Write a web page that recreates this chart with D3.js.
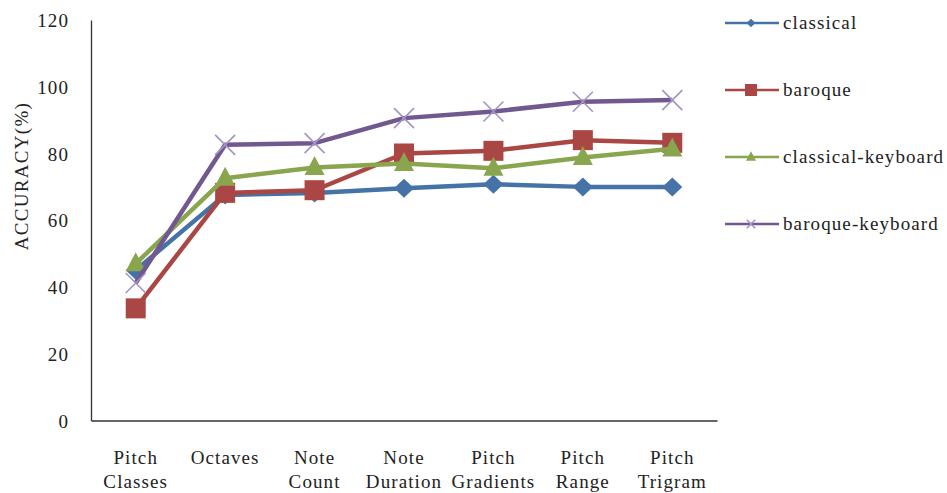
<!DOCTYPE html>
<html>
<head>
<meta charset="utf-8">
<script src="https://cdn.jsdelivr.net/npm/d3@7"></script>
<style>
  html, body { margin: 0; padding: 0; background: #fff; }
  svg { display: block; }
</style>
</head>
<body>
<svg id="chart" width="947" height="493"></svg>
<script>
// Feature categories (two-line labels on the x axis)
const categories = ["Pitch Classes", "Octaves", "Note Count", "Note Duration", "Pitch Gradients", "Pitch Range", "Pitch Trigram"];
const categoryLines = [["Pitch", "Classes"], ["Octaves"], ["Note", "Count"], ["Note", "Duration"], ["Pitch", "Gradients"], ["Pitch", "Range"], ["Pitch", "Trigram"]];

// Accuracy (%) per feature set
const classical = [45, 67.6, 68.2, 69.6, 70.8, 70, 70];
const baroque = [33.6, 68.2, 69, 80, 80.8, 84, 83.2];
const classicalKeyboard = [47, 72.6, 75.8, 77, 75.6, 78.8, 81.4];
const baroqueKeyboard = [41.2, 82.6, 83.1, 90.6, 92.6, 95.5, 96];

const seriesNames = ["classical", "baroque", "classical-keyboard", "baroque-keyboard"];
const yTicks = [0, 20, 40, 60, 80, 100, 120];

const series = [
  { name: seriesNames[0], values: classical, color: "#4572A7", marker: "diamond" },
  { name: seriesNames[1], values: baroque, color: "#AA4643", marker: "square" },
  { name: seriesNames[2], values: classicalKeyboard, color: "#89A54E", marker: "triangle" },
  { name: seriesNames[3], values: baroqueKeyboard, color: "#71588F", marker: "cross" }
];

const FONT = '"Liberation Serif", "Times New Roman", serif';
const textStyle = sel => sel
  .style("font-family", FONT)
  .style("font-size", "19px")
  .style("letter-spacing", "1.1px")
  .style("fill", "#222");

const svg = d3.select("#chart");
const plot = { left: 91, right: 717, top: 20, bottom: 420.5 };

const x = d3.scaleBand().domain(categories).range([plot.left, plot.right]);
const y = d3.scaleLinear().domain([0, 120]).range([plot.bottom, plot.top]);
const cx = c => x(c) + x.bandwidth() / 2;

// Axes
const yAxis = svg.append("g")
  .attr("transform", `translate(${plot.left},0)`)
  .call(d3.axisLeft(y).tickValues(yTicks).tickSize(0).tickPadding(22));
yAxis.select(".domain").attr("stroke", "#333").attr("stroke-width", 1.3);
yAxis.selectAll("text").call(textStyle).attr("dy", "0.35em");

const xAxis = svg.append("g")
  .attr("transform", `translate(0,${plot.bottom})`)
  .call(d3.axisBottom(x).tickSize(0).tickFormat(""));
xAxis.select(".domain").attr("stroke", "#333").attr("stroke-width", 1.3);

// Multi-line category labels
xAxis.selectAll(".tick").each(function (d, i) {
  const t = d3.select(this).append("text")
    .attr("text-anchor", "middle")
    .call(textStyle);
  categoryLines[i].forEach((line, k) => {
    t.append("tspan").attr("x", 0).attr("y", 43 + k * 24).text(line);
  });
});

// Y axis title
svg.append("text")
  .attr("transform", `translate(28,176) rotate(-90)`)
  .attr("text-anchor", "middle")
  .call(textStyle)
  .style("letter-spacing", "1.3px")
  .text("ACCURACY(%)");

// Marker drawing
function drawMarker(g, type, px, py, color, scale = 1) {
  if (type === "diamond") {
    const rx = 10 * scale, ry = 9.5 * scale;
    g.append("path")
      .attr("d", `M${px},${py - ry}L${px + rx},${py}L${px},${py + ry}L${px - rx},${py}Z`)
      .attr("fill", color);
  } else if (type === "square") {
    const s = 20 * scale;
    g.append("rect")
      .attr("x", px - s / 2).attr("y", py - s / 2)
      .attr("width", s).attr("height", s)
      .attr("fill", color);
  } else if (type === "triangle") {
    const h = 19 * scale, w = 20 * scale;
    g.append("path")
      .attr("d", `M${px},${py - h * 0.6}L${px + w / 2},${py + h * 0.4}L${px - w / 2},${py + h * 0.4}Z`)
      .attr("fill", color);
  } else if (type === "cross") {
    const r = 10 * scale;
    g.append("path")
      .attr("d", `M${px - r},${py - r}L${px + r},${py + r}M${px - r},${py + r}L${px + r},${py - r}`)
      .attr("stroke", "#a393c4")
      .attr("stroke-width", 1.6)
      .attr("fill", "none");
  }
}

const line = d3.line()
  .x((d, i) => cx(categories[i]))
  .y(d => y(d));

// Each series: line, then its markers
series.forEach(s => {
  const g = svg.append("g");
  g.append("path")
    .datum(s.values)
    .attr("d", line)
    .attr("fill", "none")
    .attr("stroke", s.color)
    .attr("stroke-width", 4.5)
    .attr("stroke-linejoin", "round");
  s.values.forEach((v, i) => drawMarker(g, s.marker, cx(categories[i]), y(v), s.color));
});

// Legend
const legend = svg.append("g");
const legendY = [23, 90, 157, 224];
const legendScale = [0.45, 0.6, 0.5, 0.42];
series.forEach((s, i) => {
  const ly = legendY[i];
  legend.append("line")
    .attr("x1", 725).attr("x2", 779)
    .attr("y1", ly).attr("y2", ly)
    .attr("stroke", s.color).attr("stroke-width", 2.5);
  drawMarker(legend, s.marker, 751, ly, s.color, legendScale[i]);
  legend.append("text")
    .attr("x", 783).attr("y", ly + 6)
    .call(textStyle)
    .text(s.name);
});
</script>
</body>
</html>
